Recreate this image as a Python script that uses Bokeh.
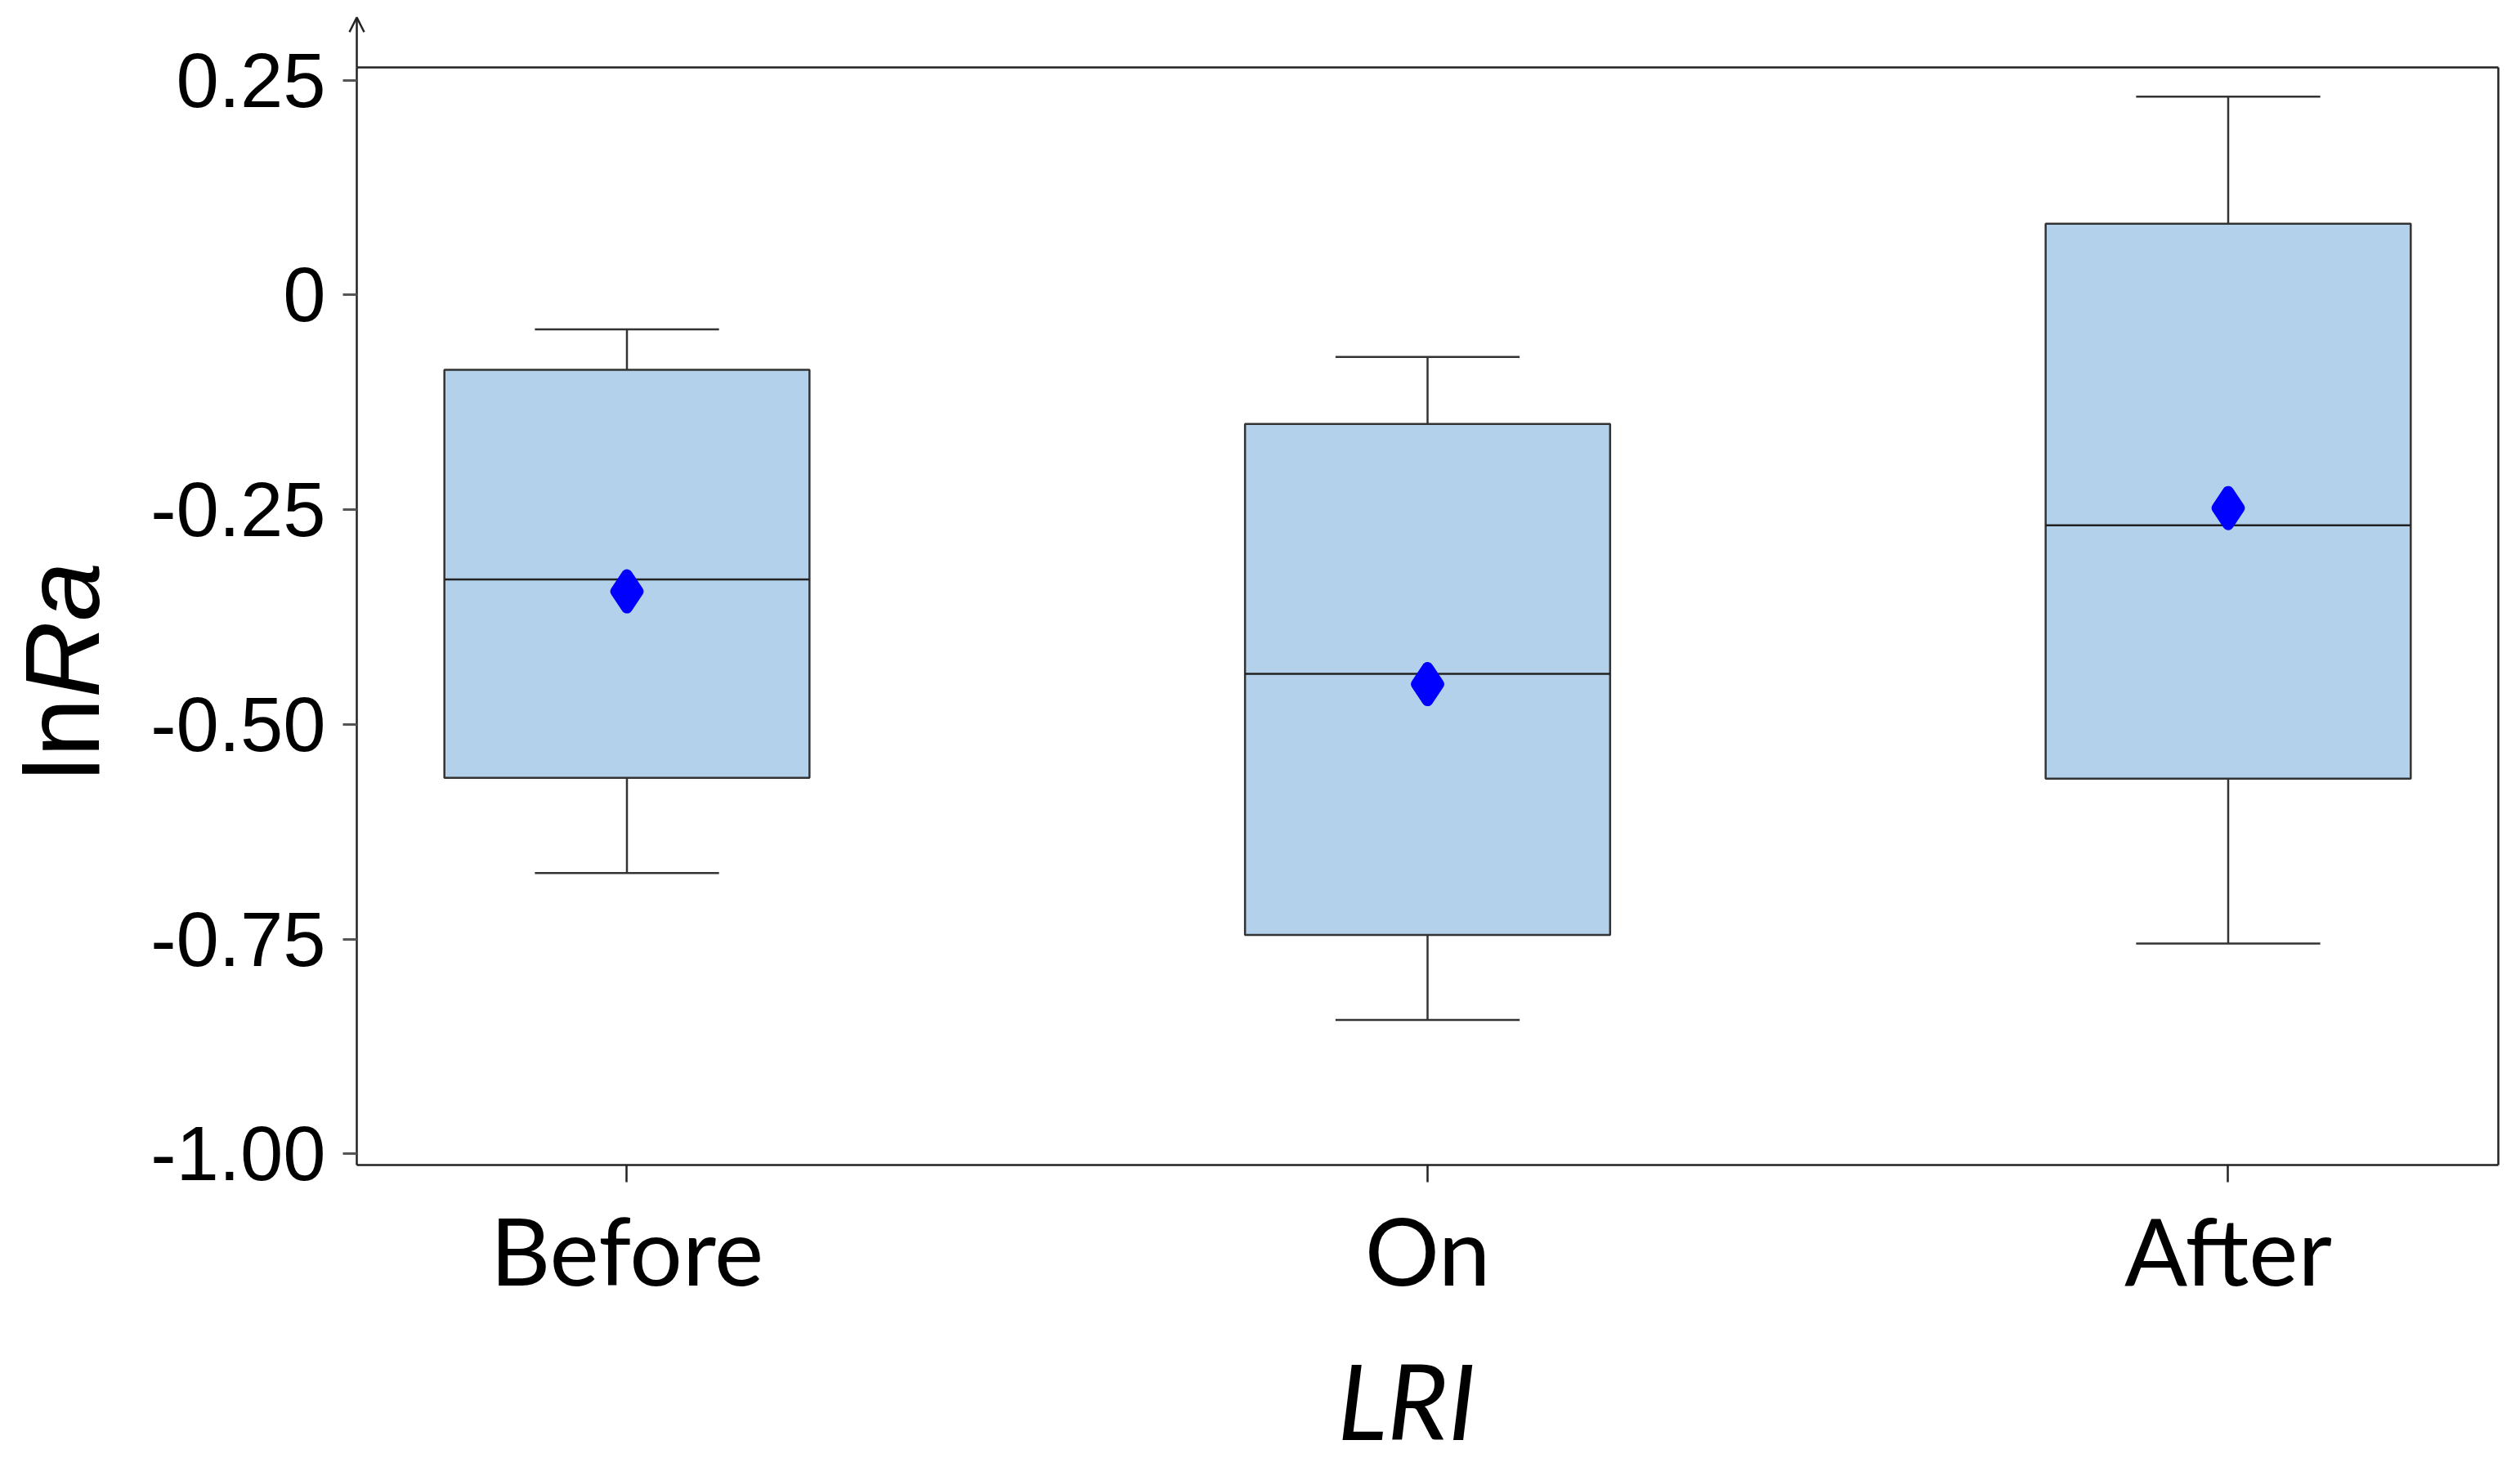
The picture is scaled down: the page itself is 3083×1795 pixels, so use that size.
import math
from bokeh.plotting import figure
from bokeh.models import (Range1d, FixedTicker, Label, Arrow, OpenHead, LinearAxis,
                          ColumnDataSource, NumeralTickFormatter)
from bokeh.embed import file_html
from bokeh.resources import INLINE

# ---- data ----
categories = ["Before", "On", "After"]
upper_whisker = [-0.040, -0.072, 0.231]
q3 = [-0.087, -0.150, 0.083]
median = [-0.331, -0.441, -0.268]
mean = [-0.345, -0.453, -0.248]
q1 = [-0.562, -0.745, -0.563]
lower_whisker = [-0.673, -0.844, -0.755]
y_ticks = [0.25, 0, -0.25, -0.5, -0.75, -1.0]
y_tick_labels = ["0.25", "0", "-0.25", "-0.50", "-0.75", "-1.00"]
x_title = "LRI"
y_title_plain = "ln"
y_title_italic = "Ra"

# ---- layout ----
W, H = 3080, 1793
# the data frame (box) limits
FX0, FX1 = 0.6626, 3.3374
FY0, FY1 = -1.0129, 0.2650
# whole-canvas ranges so that titles / arrow outside the box are not clipped
XR0, XR1 = 0.21746, 3.36192
YR0, YR1 = -1.36299, 0.3430
BOX_W = 0.456
CAP_W = 0.23

xs = [i + 1 for i in range(len(categories))]
src = ColumnDataSource(dict(
    x=xs, q1=q1, q3=q3, med=median, mean=mean, lo=lower_whisker, hi=upper_whisker,
    bx0=[x - BOX_W / 2 for x in xs], bx1=[x + BOX_W / 2 for x in xs],
    cx0=[x - CAP_W / 2 for x in xs], cx1=[x + CAP_W / 2 for x in xs],
))

p = figure(width=W, height=H, output_backend="svg", toolbar_location=None,
           x_range=Range1d(XR0, XR1), y_range=Range1d(YR0, YR1),
           min_border_left=0, min_border_right=0, min_border_top=0,
           min_border_bottom=0)
p.background_fill_color = "white"
p.border_fill_color = "white"
p.outline_line_color = None
p.xgrid.visible = False
p.ygrid.visible = False

LINE = "#333333"
# whiskers
p.segment(x0="x", y0="q3", x1="x", y1="hi", line_color=LINE, line_width=2.5, source=src)
p.segment(x0="x", y0="q1", x1="x", y1="lo", line_color=LINE, line_width=2.5, source=src)
p.segment(x0="cx0", y0="hi", x1="cx1", y1="hi", line_color=LINE, line_width=2.5, source=src)
p.segment(x0="cx0", y0="lo", x1="cx1", y1="lo", line_color=LINE, line_width=2.5, source=src)
# boxes
p.vbar(x="x", width=BOX_W, top="q3", bottom="q1", fill_color="#b3d1ea",
       line_color=LINE, line_width=2.5, source=src)
# median
p.segment(x0="bx0", y0="med", x1="bx1", y1="med", line_color="#222222", line_width=2.5, source=src)
# mean
p.scatter(x="x", y="mean", marker="diamond", size=40, fill_color="#0000ff",
          line_color="#0000ff", line_width=14, line_join="round", source=src)

# axes (drawn at the box edges)
xa = p.xaxis[0]
xa.fixed_location = FY0
xa.bounds = (FX0, FX1)
xa.ticker = FixedTicker(ticks=xs)
xa.major_label_overrides = {x: c for x, c in zip(xs, categories)}
xa.major_label_text_font = "Lato"
xa.major_label_text_font_size = "114px"
xa.major_label_text_color = "black"
xa.major_label_standoff = 13
xa.major_tick_out = 21
xa.major_tick_in = 0
xa.minor_tick_line_color = None
xa.axis_line_color = "#222222"
xa.axis_line_width = 2.5
xa.major_tick_line_color = "#222222"
xa.major_tick_line_width = 2.5

ya = p.yaxis[0]
ya.fixed_location = FX0
ya.bounds = (FY0, FY1)
ya.ticker = FixedTicker(ticks=y_ticks)
ya.formatter = NumeralTickFormatter(format="0.00")
ya.major_label_overrides = {t: l for t, l in zip(y_ticks, y_tick_labels)}
ya.major_label_text_font = "Liberation Sans"
ya.major_label_text_font_size = "94px"
ya.major_label_text_color = "black"
ya.major_label_standoff = 21
ya.major_tick_out = 17
ya.major_tick_in = 0
ya.minor_tick_line_color = None
ya.axis_line_color = "#222222"
ya.axis_line_width = 2.5
ya.major_tick_line_color = "#555555"
ya.major_tick_line_width = 3

# top and right edges of the box (axis lines only, no ticks or labels)
top_ax = LinearAxis(fixed_location=FY1, bounds=(FX0, FX1), ticker=FixedTicker(ticks=[]),
                    major_tick_line_color=None, minor_tick_line_color=None,
                    axis_line_color="#222222", axis_line_width=2.5)
right_ax = LinearAxis(fixed_location=FX1, bounds=(FY0, FY1), ticker=FixedTicker(ticks=[]),
                      major_tick_line_color=None, minor_tick_line_color=None,
                      axis_line_color="#222222", axis_line_width=2.5)
p.add_layout(top_ax, "above")
p.add_layout(right_ax, "right")

# y axis arrow above the box
p.add_layout(Arrow(end=OpenHead(size=18, line_width=2.5, line_color="#222222"),
                   x_start=FX0, y_start=FY1, x_end=FX0, y_end=0.3233,
                   line_width=2.5, line_color="#222222"))

# axis titles
p.add_layout(Label(x=1.974, y=-1.2859, text=x_title, text_font="Lato",
                   text_font_style="italic", text_font_size="128px",
                   text_align="center", text_baseline="middle", text_color="black"))
p.add_layout(Label(x=0.2941, y=-0.5656, text=y_title_plain, text_font="Liberation Sans",
                   text_font_size="130px", angle=math.pi / 2, text_align="left",
                   text_baseline="middle", text_color="black"))
p.add_layout(Label(x=0.2941, y=-0.4690, text=y_title_italic, text_font="Liberation Sans",
                   text_font_style="italic", text_font_size="130px", angle=math.pi / 2,
                   text_align="left", text_baseline="middle", text_color="black"))

open("out.html", "w").write(file_html(p, INLINE))
